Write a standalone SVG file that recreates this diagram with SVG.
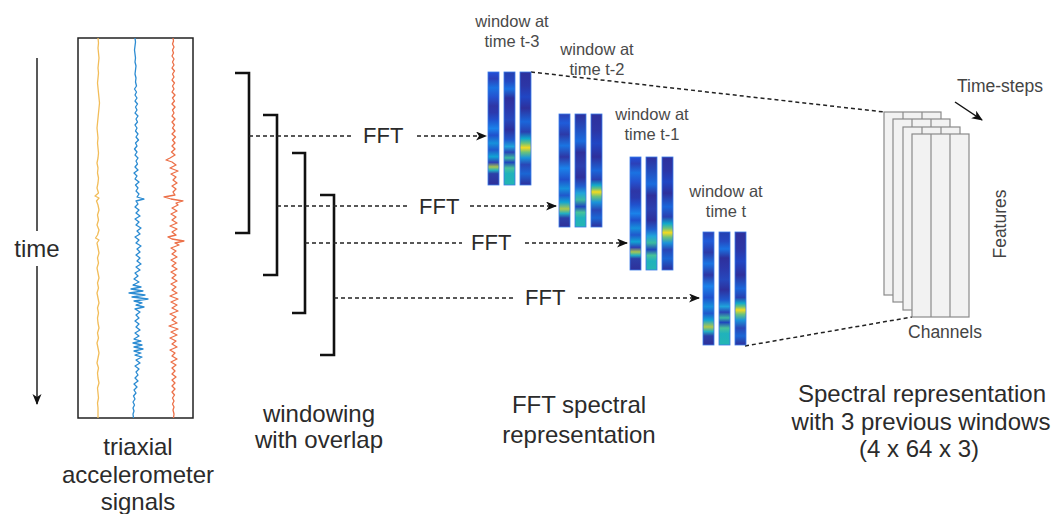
<svg xmlns="http://www.w3.org/2000/svg" width="1053" height="514" viewBox="0 0 1053 514">
<style>
text{font-family:"Liberation Sans",Arial,sans-serif;fill:#2b2b2b}
.lbl{font-size:24px;text-anchor:middle}
.fft{font-size:22px}
.win{font-size:16.5px;text-anchor:middle;fill:#4a4a4a}
.small{font-size:17.5px;fill:#444}
.br{fill:none;stroke:#111;stroke-width:2.6}
.dash{fill:none;stroke:#222;stroke-width:1.5;stroke-dasharray:4 3}
.sig{fill:none;stroke-width:1.3;stroke-linejoin:round}
.stk{fill:#f2f2f2;stroke:#8a8a8a;stroke-width:1.2}
.div{stroke:#8a8a8a;stroke-width:1.2}
.col{stroke:#3a7ae8;stroke-width:0.8}
</style>
<defs>
<marker id="ah" markerUnits="userSpaceOnUse" markerWidth="12" markerHeight="10" refX="10" refY="4.5" orient="auto">
<path d="M0,0 L11,4.5 L0,9 L3,4.5 z" fill="#111"/>
</marker>
<linearGradient id="c1a" x1="0" y1="0" x2="0" y2="1">
<stop offset="0" stop-color="#2150d8"/><stop offset="0.06" stop-color="#2c40b8"/><stop offset="0.14" stop-color="#1a72e2"/><stop offset="0.22" stop-color="#2452d0"/><stop offset="0.30" stop-color="#2e36a6"/><stop offset="0.36" stop-color="#2a3aae"/><stop offset="0.42" stop-color="#2050cc"/><stop offset="0.50" stop-color="#1a82ea"/><stop offset="0.56" stop-color="#2050cc"/><stop offset="0.63" stop-color="#1690dc"/><stop offset="0.69" stop-color="#2058cc"/><stop offset="0.75" stop-color="#10a4d4"/><stop offset="0.80" stop-color="#3040b4"/><stop offset="0.84" stop-color="#a8c650"/><stop offset="0.87" stop-color="#22b0c2"/><stop offset="0.90" stop-color="#2c40a8"/><stop offset="1" stop-color="#2e309a"/>
</linearGradient>
<linearGradient id="c2a" x1="0" y1="0" x2="0" y2="1">
<stop offset="0" stop-color="#2440b0"/><stop offset="0.08" stop-color="#2648c0"/><stop offset="0.15" stop-color="#1a72e2"/><stop offset="0.23" stop-color="#2e309c"/><stop offset="0.32" stop-color="#2c38aa"/><stop offset="0.42" stop-color="#2648bc"/><stop offset="0.51" stop-color="#2e309c"/><stop offset="0.60" stop-color="#2058cc"/><stop offset="0.66" stop-color="#20a4da"/><stop offset="0.71" stop-color="#2a44b6"/><stop offset="0.76" stop-color="#3cbaa0"/><stop offset="0.80" stop-color="#2046bc"/><stop offset="0.85" stop-color="#48c29a"/><stop offset="0.90" stop-color="#20b2bc"/><stop offset="1" stop-color="#24b6b2"/>
</linearGradient>
<linearGradient id="c3a" x1="0" y1="0" x2="0" y2="1">
<stop offset="0" stop-color="#2e309c"/><stop offset="0.12" stop-color="#2c36a6"/><stop offset="0.22" stop-color="#2046c4"/><stop offset="0.32" stop-color="#2e309c"/><stop offset="0.44" stop-color="#1a66da"/><stop offset="0.53" stop-color="#2a40b0"/><stop offset="0.59" stop-color="#10aaca"/><stop offset="0.63" stop-color="#6ac27c"/><stop offset="0.67" stop-color="#f4da20"/><stop offset="0.71" stop-color="#6ac27c"/><stop offset="0.76" stop-color="#1a94da"/><stop offset="0.82" stop-color="#2a46b6"/><stop offset="0.90" stop-color="#1a66d4"/><stop offset="1" stop-color="#2e309c"/>
</linearGradient>
<linearGradient id="c1b" x1="0" y1="0" x2="0" y2="1">
<stop offset="0" stop-color="#2c40b4"/><stop offset="0.08" stop-color="#1f5cda"/><stop offset="0.18" stop-color="#2c3aa8"/><stop offset="0.28" stop-color="#1a74e2"/><stop offset="0.38" stop-color="#2e36a4"/><stop offset="0.48" stop-color="#1a82ea"/><stop offset="0.58" stop-color="#2050cc"/><stop offset="0.66" stop-color="#1690dc"/><stop offset="0.72" stop-color="#2058cc"/><stop offset="0.78" stop-color="#10a4d4"/><stop offset="0.84" stop-color="#b0c84a"/><stop offset="0.88" stop-color="#22b0c2"/><stop offset="0.92" stop-color="#2c40a8"/><stop offset="1" stop-color="#2e309a"/>
</linearGradient>
<linearGradient id="c2b" x1="0" y1="0" x2="0" y2="1">
<stop offset="0" stop-color="#2e309c"/><stop offset="0.12" stop-color="#244cbc"/><stop offset="0.24" stop-color="#1a6cde"/><stop offset="0.34" stop-color="#2e309c"/><stop offset="0.46" stop-color="#2a40b0"/><stop offset="0.56" stop-color="#2e309c"/><stop offset="0.64" stop-color="#205ece"/><stop offset="0.70" stop-color="#20a4da"/><stop offset="0.76" stop-color="#3cbaa0"/><stop offset="0.82" stop-color="#2046bc"/><stop offset="0.87" stop-color="#48c29a"/><stop offset="0.92" stop-color="#20b2bc"/><stop offset="1" stop-color="#24b6b2"/>
</linearGradient>
<linearGradient id="c3b" x1="0" y1="0" x2="0" y2="1">
<stop offset="0" stop-color="#2e309c"/><stop offset="0.15" stop-color="#2c36a6"/><stop offset="0.26" stop-color="#2046c4"/><stop offset="0.38" stop-color="#2e309c"/><stop offset="0.50" stop-color="#1a66da"/><stop offset="0.58" stop-color="#2a40b0"/><stop offset="0.63" stop-color="#10aaca"/><stop offset="0.66" stop-color="#6ac27c"/><stop offset="0.69" stop-color="#f4da20"/><stop offset="0.73" stop-color="#6ac27c"/><stop offset="0.78" stop-color="#1a94da"/><stop offset="0.85" stop-color="#2a46b6"/><stop offset="0.92" stop-color="#1a66d4"/><stop offset="1" stop-color="#2e309c"/>
</linearGradient>
</defs>
<rect width="1053" height="514" fill="#fff"/>

<g id="signals">
<rect x="78" y="38" width="115" height="380" fill="#fff" stroke="#222" stroke-width="1.5"/>
<polyline class="sig" stroke="#f2bd5a" points="98,38 98.5,43 98,48 98.5,53 99,58 98.5,63 98,68 98.5,73 98,78 97.5,83 98,88 98.5,93 99,98 99.5,103 99,108 98.5,113 98,118 97.5,123 97,128 97.5,133 98,138 97.5,143 98,148 98.5,153 98,158 97,163 98,168 97.5,173 98.5,178 98,183 97,188 98.5,193 95,196 99,198 96.5,201 98,205 99,210 97.5,215 98.5,220 97,225 99,230 97.5,235 95.5,238 99,240 97,243 98,248 99,253 97.5,258 98.5,263 97,268 98,273 99,278 97.5,283 98.5,288 97,293 98,298 99,303 97.5,308 98.5,313 97.5,318 98,323 99,328 97.5,333 98.5,338 97,343 98,348 99,353 98,358 97,363 98.5,368 97.5,373 98,378 99,383 97.5,388 98,393 98.5,398 97.5,403 98,408 98,413 98,418"/>
<polyline class="sig" stroke="#2b8bd2" points="135,38 135.5,42 135,46 134.5,50 135,54 135.5,58 135,62 136,66 135.5,70 135,74 136,78 135.5,82 136.5,86 134.5,89 136.5,92 135,95 137,98 135,101 137.5,104 135.5,107 137,110 135,113 138,116 136,119 137.5,122 135,125 137,128 135.5,131 138,134 136,137 138.5,140 135.5,143 137,146 134.5,149 137,152 135,155 138,158 136,161 137.5,164 135,167 138,170 134,173 137,176 135,179 139,182 135.5,185 138,188 136,191 139,194 137,197 144,199 136,201 138,204 135,207 139,210 136,213 140,216 135,219 139,222 136,225 141,228 137,231 140,234 135,237 139,240 136,243 141,246 137,249 140,252 136,255 140,258 137,261 141,264 136,267 140,270 135,273 138,276 134,279 139,282 133,285 141,287 131,289 143,291 129,293 145,295 132,297 148,299 134,301 142,303 136,305 144,307 135,309 140,312 136,315 139,318 135,321 139,324 136,327 140,330 135,333 139,336 134,339 141,341 133,343 142,345 134,347 143,349 134,351 141,353 135,355 142,357 136,360 140,363 135,366 139,369 136,372 138,375 135,378 138,381 134,384 137,387 134,390 136,393 133.5,396 135,399 133,402 134.5,405 133,408 134,411 133,414 133.5,418"/>
<polyline class="sig" stroke="#ec7048" points="173,38 173.5,41 172.5,44 174,47 172.5,50 173.5,53 172,56 174,59 172.5,62 174,65 172,68 174.5,71 172.5,74 174,77 172,80 174.5,83 172.5,86 174,89 172,92 175,95 172.5,98 174.5,101 172,104 175,107 172.5,110 174,113 172,116 175,119 172,122 174.5,125 172.5,128 175,131 172,134 175.5,137 172.5,140 175,143 172,146 175,149 171.5,152 175,155 170,158 166,160 172,162 176,165 170,168 178,171 171,174 176,177 173,180 177,183 172,186 176,189 173,192 175,195 164,197 171,199 183,201 176,203 178,205 172,208 177,211 171,214 176,217 172,220 177,223 170,226 177,229 172,232 176,235 168,237 172,239 184,241 175,243 179,245 171,248 176,251 172,254 177,257 171,260 176,263 172,266 177,269 171,272 176,275 172,278 177,281 171,284 176,287 172,290 177,293 170,296 178,299 171,302 177,305 172,308 178,311 170,314 176,317 172,320 177,323 169,326 178,329 171,332 177,335 170,338 176,341 172,344 177,347 170,350 175,353 172,356 177,359 171,362 176,365 172,368 175,371 172,374 176,377 172,380 175,383 172,386 175,389 172,392 174.5,395 172.5,398 174,401 172.5,404 174,407 173,410 174,414 173.5,418"/>
</g>

<g id="time-axis">
<line x1="37" y1="58" x2="37" y2="231" stroke="#222" stroke-width="1.5"/>
<line x1="37" y1="266" x2="37" y2="404" stroke="#222" stroke-width="1.5" marker-end="url(#ah)"/>
<text x="37" y="257" font-size="24" text-anchor="middle">time</text>
</g>

<g id="brackets">
<polyline class="br" points="235,73 249,73 249,233 235,233"/>
<polyline class="br" points="263,115 277,115 277,275 263,275"/>
<polyline class="br" points="292,153 305,153 305,313 292,313"/>
<polyline class="br" points="320,195 334,195 334,355 320,355"/>
</g>

<g id="connectors">
<line class="dash" x1="249" y1="136" x2="354" y2="136"/>
<line class="dash" x1="417" y1="136" x2="486" y2="136" marker-end="url(#ah)"/>
<line class="dash" x1="277" y1="206" x2="408" y2="206"/>
<line class="dash" x1="470" y1="206" x2="556" y2="206" marker-end="url(#ah)"/>
<line class="dash" x1="305" y1="243" x2="462" y2="243"/>
<line class="dash" x1="525" y1="243" x2="627" y2="243" marker-end="url(#ah)"/>
<line class="dash" x1="334" y1="298" x2="514" y2="298"/>
<line class="dash" x1="578" y1="298" x2="699" y2="298" marker-end="url(#ah)"/>
<line class="dash" x1="531" y1="72" x2="884" y2="112"/>
<line class="dash" x1="745" y1="346" x2="912" y2="317"/>
<line x1="955" y1="102" x2="982" y2="120" stroke="#111" stroke-width="1.5" marker-end="url(#ah)"/>
</g>

<g id="fft-labels">
<text class="fft" x="363" y="143">FFT</text>
<text class="fft" x="419" y="214">FFT</text>
<text class="fft" x="471" y="250">FFT</text>
<text class="fft" x="525" y="305">FFT</text>
</g>

<g id="window-t-3">
<rect class="col" x="488" y="72" width="11" height="113" fill="url(#c1a)"/>
<rect class="col" x="504" y="72" width="11" height="113" fill="url(#c2a)"/>
<rect class="col" x="520" y="72" width="11" height="113" fill="url(#c3a)"/>
<text class="win" x="512" y="27">window at</text>
<text class="win" x="512" y="47">time t-3</text>
</g>
<g id="window-t-2">
<rect class="col" x="559" y="114" width="11" height="113" fill="url(#c1b)"/>
<rect class="col" x="575" y="114" width="11" height="113" fill="url(#c2b)"/>
<rect class="col" x="591" y="114" width="11" height="113" fill="url(#c3b)"/>
<text class="win" x="597" y="55">window at</text>
<text class="win" x="597" y="75">time t-2</text>
</g>
<g id="window-t-1">
<rect class="col" x="630" y="157" width="11" height="113" fill="url(#c1a)"/>
<rect class="col" x="646" y="157" width="11" height="113" fill="url(#c2b)"/>
<rect class="col" x="662" y="157" width="11" height="113" fill="url(#c3a)"/>
<text class="win" x="652" y="120">window at</text>
<text class="win" x="652" y="140">time t-1</text>
</g>
<g id="window-t">
<rect class="col" x="703" y="232" width="11" height="113" fill="url(#c1b)"/>
<rect class="col" x="719" y="232" width="11" height="113" fill="url(#c2a)"/>
<rect class="col" x="735" y="232" width="11" height="113" fill="url(#c3b)"/>
<text class="win" x="726" y="197">window at</text>
<text class="win" x="726" y="217">time t</text>
</g>

<g id="stack">
<rect class="stk" x="884" y="112" width="57" height="183"/>
<line class="div" x1="903" y1="112" x2="903" y2="295"/><line class="div" x1="922" y1="112" x2="922" y2="295"/>
<rect class="stk" x="893" y="119" width="57" height="183"/>
<line class="div" x1="912" y1="119" x2="912" y2="302"/><line class="div" x1="931" y1="119" x2="931" y2="302"/>
<rect class="stk" x="903" y="127" width="57" height="183"/>
<line class="div" x1="922" y1="127" x2="922" y2="310"/><line class="div" x1="941" y1="127" x2="941" y2="310"/>
<rect class="stk" x="912" y="134" width="57" height="183"/>
<line class="div" x1="931" y1="134" x2="931" y2="317"/><line class="div" x1="950" y1="134" x2="950" y2="317"/>
<text class="small" x="957" y="92">Time-steps</text>
<text class="small" x="945" y="338" text-anchor="middle">Channels</text>
<text class="small" transform="translate(1006,224) rotate(-90)" text-anchor="middle">Features</text>
</g>

<g id="captions">
<text class="lbl" x="138" y="455">triaxial</text>
<text class="lbl" x="138" y="483">accelerometer</text>
<text class="lbl" x="138" y="510">signals</text>
<text class="lbl" x="319" y="422" font-size="23">windowing</text>
<text class="lbl" x="319" y="448" font-size="23">with overlap</text>
<text class="lbl" x="579" y="413" font-size="23">FFT spectral</text>
<text class="lbl" x="579" y="443" font-size="23">representation</text>
<text class="lbl" x="922" y="402">Spectral representation</text>
<text class="lbl" x="921" y="430">with 3 previous windows</text>
<text class="lbl" x="919" y="457">(4 x 64 x 3)</text>
</g>
</svg>
